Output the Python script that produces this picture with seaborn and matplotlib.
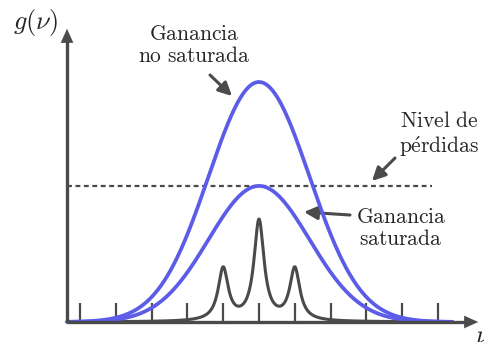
import numpy as np
import pandas as pd
import matplotlib
matplotlib.use("Agg")
import matplotlib.pyplot as plt
import seaborn as sns

# ---- data (x in units of tick spacing, y relative to unsaturated peak) ----
tick_positions = [0, 1, 2, 3, 4, 5, 6, 7, 8, 9, 10]
gain_center = 5.0
gain_sigma = 1.41
gain_unsat_peak = 1.0
gain_sat_peak = 0.567
loss_level = 0.567
mode_positions = [4, 5, 6]
mode_heights = [0.217, 0.417, 0.217]
mode_halfwidth = 0.17

sns.set_style("white")
plt.rcParams["mathtext.fontset"] = "cm"

BLUE = "#5c5ce8"
GRAY = "#4a4a4a"

nu = np.linspace(-0.36, 10.4, 1400)
g_unsat = gain_unsat_peak * np.exp(-(nu - gain_center) ** 2 / (2 * gain_sigma ** 2))
g_sat = gain_sat_peak * np.exp(-(nu - gain_center) ** 2 / (2 * gain_sigma ** 2))
modes = np.zeros_like(nu)
for p, h in zip(mode_positions, mode_heights):
    modes += h / (1 + ((nu - p) / mode_halfwidth) ** 2)

df = pd.DataFrame({"nu": np.concatenate([nu, nu]),
                   "g": np.concatenate([g_unsat, g_sat]),
                   "curve": ["unsat"] * len(nu) + ["sat"] * len(nu)})
dm = pd.DataFrame({"nu": nu, "g": modes})

fig = plt.figure(figsize=(4.85, 3.42), dpi=100)
ax = fig.add_axes([0, 0, 1, 1])
ax.set_xlim(-2.235, 11.313)
ax.set_ylim(-0.0833, 1.3417)
ax.axis("off")

def px(x):
    return (x - 80) / 35.8

def py(y):
    return (322 - y) / 240

# ticks
for t in tick_positions:
    ax.plot([t, t], [0, py(303)], color=GRAY, lw=1.6, solid_capstyle="butt", zorder=1)

sns.lineplot(data=dm, x="nu", y="g", color=GRAY, lw=2.2, ax=ax, zorder=3)
sns.lineplot(data=df, x="nu", y="g", hue="curve", palette=[BLUE, BLUE],
             lw=2.7, ax=ax, legend=False, zorder=4, sort=False, estimator=None)

# loss level
ax.plot([px(67), px(432)], [loss_level, loss_level], color=GRAY, lw=1.6,
        ls=(0, (2.2, 1.6)), zorder=2)

# axes with arrows
ax.plot([px(67), px(467)], [0, 0], color=GRAY, lw=2.4, zorder=5, solid_capstyle="butt")
ax.plot([px(67), px(67)], [0, py(40)], color=GRAY, lw=2.4, zorder=5, solid_capstyle="butt")
ax.annotate("", xy=(px(481), 0), xytext=(px(462), 0),
            arrowprops=dict(arrowstyle="-|>,head_length=1.0,head_width=0.45",
                            color=GRAY, lw=0.1), zorder=6)
ax.annotate("", xy=(px(67), py(26)), xytext=(px(67), py(45)),
            arrowprops=dict(arrowstyle="-|>,head_length=1.0,head_width=0.45",
                            color=GRAY, lw=0.1), zorder=6)

fs = 15.5
ax.text(px(36), py(22), r"$g(\nu)$", fontsize=19, ha="center", va="center")
ax.text(px(475), py(336), r"$\nu$", fontsize=19, ha="left", va="center")

ax.text(px(194), py(45), r"$\mathrm{Ganancia}$" + "\n" + r"$\mathrm{no\ saturada}$",
        fontsize=fs, ha="center", va="center", linespacing=1.15)
ax.text(px(439), py(135), r"$\mathrm{Nivel\ de}$" + "\n" + r"$\mathrm{p\acute{e}rdidas}$",
        fontsize=fs, ha="center", va="center", linespacing=1.15)
ax.text(px(401), py(228), r"$\mathrm{Ganancia}$" + "\n" + r"$\mathrm{saturada}$",
        fontsize=fs, ha="center", va="center", linespacing=1.15)

arrow_kw = dict(arrowstyle="-|>,head_length=0.8,head_width=0.4", color=GRAY, lw=2.2,
                shrinkA=0, shrinkB=0)
ax.annotate("", xy=(px(232), py(96)), xytext=(px(210), py(75)), arrowprops=arrow_kw)
ax.annotate("", xy=(px(372), py(181)), xytext=(px(395), py(158)), arrowprops=arrow_kw)
ax.annotate("", xy=(px(304), py(212)), xytext=(px(350), py(215)), arrowprops=arrow_kw)

fig.savefig("out.png", dpi=100)
